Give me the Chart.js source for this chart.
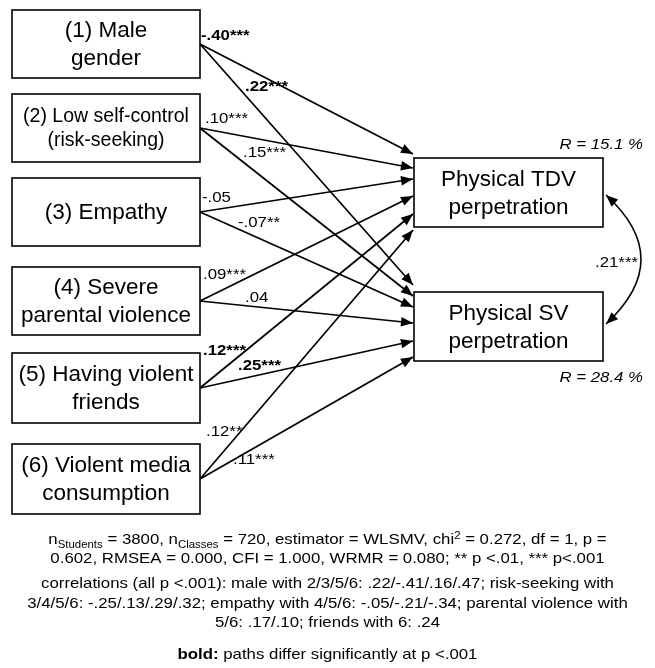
<!DOCTYPE html>
<html>
<head>
<meta charset="utf-8">
<script src="https://cdn.jsdelivr.net/npm/chart.js"></script>
<style>
  html, body { margin: 0; padding: 0; background: #fff; }
  #contenedor { width: 655px; height: 668px; position: relative; }
</style>
</head>
<body>
<div id="contenedor"><canvas id="diagrama"></canvas></div>
<script>
// Datos del modelo de rutas
const predictores = [
  ["(1) Male", "gender"],
  ["(2) Low self-control", "(risk-seeking)"],
  ["(3) Empathy"],
  ["(4) Severe", "parental violence"],
  ["(5) Having violent", "friends"],
  ["(6) Violent media", "consumption"],
];
const resultados = [["Physical TDV", "perpetration"], ["Physical SV", "perpetration"]];
const coefTDV = ["-.40***", ".10***", "-.05", ".09***", ".12***", ".12**"];
const coefSV = [".22***", ".15***", "-.07**", ".04", ".25***", ".11***"];
const negritaTDV = [true, false, false, false, true, false];
const negritaSV = [true, false, false, false, true, false];
const varianzaR = ["R = 15.1 %", "R = 28.4 %"];
const correlacionRes = ".21***";

// Notas al pie (segmentos con subíndice / superíndice)
const notaAjuste = [
  [{ t: "n" }, { t: "Students", sub: true }, { t: " = 3800, n" }, { t: "Classes", sub: true },
   { t: " = 720, estimator = WLSMV, chi" }, { t: "2", sup: true }, { t: " = 0.272, df = 1, p =" }],
  [{ t: "0.602, RMSEA = 0.000, CFI = 1.000, WRMR = 0.080; ** p <.01, *** p<.001" }],
];
const notaCorrelaciones = [
  "correlations (all p <.001): male with 2/3/5/6: .22/-.41/.16/.47; risk-seeking with",
  "3/4/5/6: -.25/.13/.29/.32; empathy with 4/5/6: -.05/-.21/-.34; parental violence with",
  "5/6: .17/.10; friends with 6: .24",
];
const notaNegrita = [{ t: "bold:", bold: true }, { t: " paths differ significantly at p <.001" }];

// Disposición (posiciones en el sistema 655 x 668)
const cajaIzqX = [12, 200];
const cajasIzqY = [[10, 78], [94, 162], [178, 246], [267, 335], [353, 423], [444, 514]];
const tamIzq = [22.5, 19.5, 22.5, 22.5, 22.5, 22.5];
const cajaDerX = [414, 603];
const cajasDerY = [[158, 227], [292, 361]];
const entradaTDV = [154, 168, 179, 196, 214, 230];
const entradaSV = [285, 296, 307, 323, 341, 357];
const posCoefTDV = [[201, 36], [205, 119], [202, 198], [203, 275], [203, 351], [206, 432]];
const posCoefSV = [[245, 87], [243, 153], [238, 223], [245, 298], [238, 366], [233, 460]];
const posR = [[643, 145], [643, 378]];
const posCorr = [595, 263];
const curva = { ini: [606, 195], ctrl: [676, 259], fin: [606, 324] };
const lineasNota = [539, 558, 583, 603, 622, 654];

const FUENTE = '"Liberation Sans", Arial, sans-serif';
const ESTIRA = 1.12; // el texto pequeño del original está algo ensanchado

// Un dataset por cada ruta (predictor -> resultado)
const rutas = [];
predictores.forEach((p, i) => {
  const cy = (cajasIzqY[i][0] + cajasIzqY[i][1]) / 2;
  [entradaTDV, entradaSV].forEach((entrada) => {
    rutas.push({
      data: [{ x: cajaIzqX[1], y: cy }, { x: cajaDerX[0] - 1, y: entrada[i] }],
      showLine: true,
      borderColor: "#000",
      borderWidth: 1.7,
      pointRadius: 0,
    });
  });
});

const punta = (c, x, y, ang, largo = 12, ancho = 4.8) => {
  c.save();
  c.translate(x, y);
  c.rotate(ang);
  c.beginPath();
  c.moveTo(0, 0);
  c.lineTo(-largo, -ancho);
  c.lineTo(-largo, ancho);
  c.closePath();
  c.fillStyle = "#000";
  c.fill();
  c.restore();
};

const textoEstirado = (c, txt, x, y, align) => {
  c.save();
  c.translate(x, y);
  c.scale(ESTIRA, 1);
  c.textAlign = align;
  c.fillText(txt, 0, 0);
  c.restore();
};

const textoRico = (c, segs, cx, y, size) => {
  let total = 0;
  const medidas = segs.map((s) => {
    const fs = s.sub || s.sup ? size * 0.68 : size;
    c.font = `${s.bold ? "bold " : ""}${fs}px ${FUENTE}`;
    const w = c.measureText(s.t).width * ESTIRA;
    total += w;
    return { fs, w };
  });
  let x = cx - total / 2;
  segs.forEach((s, i) => {
    const m = medidas[i];
    c.font = `${s.bold ? "bold " : ""}${m.fs}px ${FUENTE}`;
    const dy = s.sub ? size * 0.22 : s.sup ? -size * 0.38 : 0;
    textoEstirado(c, s.t, x, y + dy, "left");
    x += m.w;
  });
};

const plugDiagrama = {
  id: "diagrama",
  beforeDatasetsDraw(chart) {
    const c = chart.ctx;
    const sx = chart.scales.x;
    const sy = chart.scales.y;
    const caja = (x1, x2, y1, y2, lineas, tam) => {
      const px1 = sx.getPixelForValue(x1), px2 = sx.getPixelForValue(x2);
      const py1 = sy.getPixelForValue(y1), py2 = sy.getPixelForValue(y2);
      c.save();
      c.fillStyle = "#fff";
      c.fillRect(px1, py1, px2 - px1, py2 - py1);
      c.strokeStyle = "#000";
      c.lineWidth = 1.6;
      c.strokeRect(px1, py1, px2 - px1, py2 - py1);
      c.fillStyle = "#000";
      c.font = `${tam}px ${FUENTE}`;
      c.textAlign = "center";
      c.textBaseline = "middle";
      const alto = tam * 1.24;
      const cy = (py1 + py2) / 2 - ((lineas.length - 1) * alto) / 2;
      lineas.forEach((l, k) => c.fillText(l, (px1 + px2) / 2, cy + k * alto + 1));
      c.restore();
    };
    predictores.forEach((p, i) => caja(cajaIzqX[0], cajaIzqX[1], cajasIzqY[i][0], cajasIzqY[i][1], p, tamIzq[i]));
    resultados.forEach((r, j) => caja(cajaDerX[0], cajaDerX[1], cajasDerY[j][0], cajasDerY[j][1], r, 22.5));
  },
  afterDatasetsDraw(chart) {
    const c = chart.ctx;
    const sx = chart.scales.x;
    const sy = chart.scales.y;
    // Puntas de flecha en el extremo de cada ruta
    chart.data.datasets.forEach((d, k) => {
      const pts = chart.getDatasetMeta(k).data;
      const a = pts[0], b = pts[1];
      punta(c, b.x, b.y, Math.atan2(b.y - a.y, b.x - a.x));
    });

    // Coeficientes
    c.save();
    c.fillStyle = "#000";
    c.textBaseline = "middle";
    const etiqueta = (txt, pos, negrita) => {
      c.font = `${negrita ? "bold " : ""}15px ${FUENTE}`;
      textoEstirado(c, txt, sx.getPixelForValue(pos[0]), sy.getPixelForValue(pos[1]), "left");
    };
    coefTDV.forEach((t, i) => etiqueta(t, posCoefTDV[i], negritaTDV[i]));
    coefSV.forEach((t, i) => etiqueta(t, posCoefSV[i], negritaSV[i]));
    etiqueta(correlacionRes, posCorr, false);

    // R cuadrado
    c.font = `italic 15px ${FUENTE}`;
    varianzaR.forEach((t, j) => textoEstirado(c, t, sx.getPixelForValue(posR[j][0]), sy.getPixelForValue(posR[j][1]), "right"));

    // Correlación residual (curva con doble flecha)
    const P = (p) => [sx.getPixelForValue(p[0]), sy.getPixelForValue(p[1])];
    const [x0, y0] = P(curva.ini), [xc, yc] = P(curva.ctrl), [x1, y1] = P(curva.fin);
    c.beginPath();
    c.moveTo(x0, y0);
    c.quadraticCurveTo(xc, yc, x1, y1);
    c.strokeStyle = "#000";
    c.lineWidth = 1.6;
    c.stroke();
    punta(c, x0, y0, Math.atan2(y0 - yc, x0 - xc));
    punta(c, x1, y1, Math.atan2(y1 - yc, x1 - xc));

    // Notas
    c.textBaseline = "alphabetic";
    const cx = sx.getPixelForValue(327.5);
    const tam = 15;
    const base = (i) => sy.getPixelForValue(lineasNota[i]) + tam * 0.36;
    textoRico(c, notaAjuste[0], cx, base(0), tam);
    textoRico(c, notaAjuste[1], cx, base(1), tam);
    notaCorrelaciones.forEach((l, i) => textoRico(c, [{ t: l }], cx, base(2 + i), tam));
    textoRico(c, notaNegrita, cx, base(5), tam);
    c.restore();
  },
};

const ctx = document.getElementById("diagrama");
new Chart(ctx, {
  type: "scatter",
  data: { datasets: rutas },
  options: {
    responsive: true,
    maintainAspectRatio: false,
    animation: false,
    events: [],
    layout: { padding: 0 },
    plugins: { legend: { display: false }, tooltip: { enabled: false } },
    scales: {
      x: { type: "linear", min: 0, max: 655, display: false },
      y: { type: "linear", min: 0, max: 668, reverse: true, display: false },
    },
  },
  plugins: [plugDiagrama],
});
</script>
</body>
</html>
